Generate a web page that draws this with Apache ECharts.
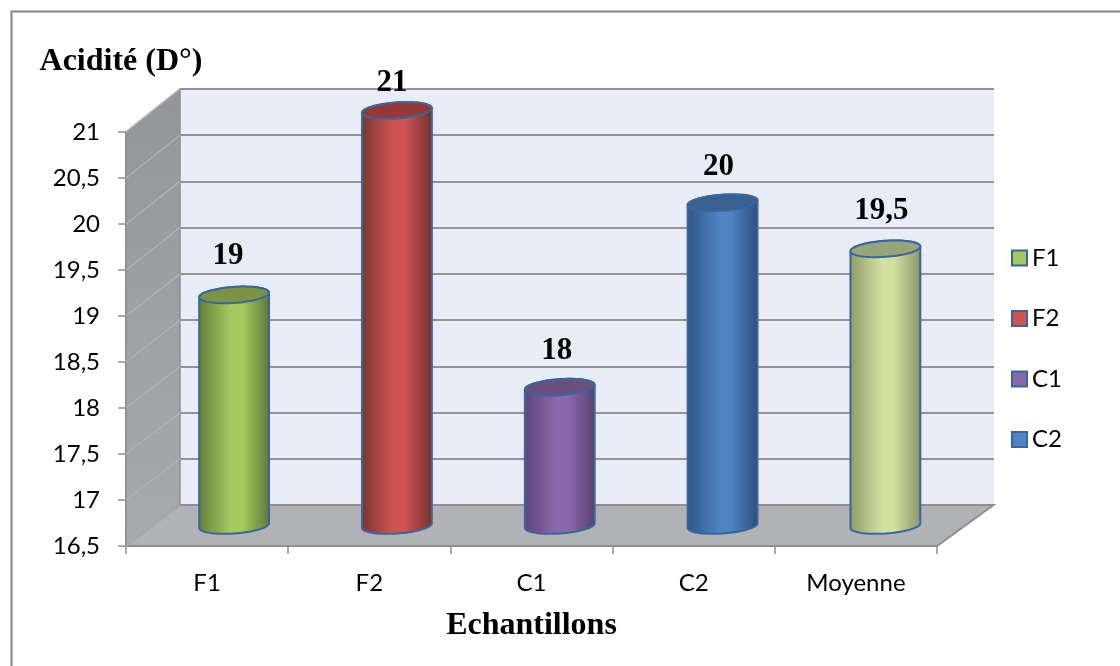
<!DOCTYPE html>
<html>
<head>
<meta charset="utf-8">
<style>html,body{margin:0;padding:0;background:#fff}#chart{width:1120px;height:666px}</style>
<script src="https://cdn.jsdelivr.net/npm/echarts@6/dist/echarts.min.js"></script>
</head>
<body>
<div id="chart"></div>
<script>
// Sample names and acidity readings (D°)
const categories = ['F1', 'F2', 'C1', 'C2', 'Moyenne'];
const acidity = [19, 21, 18, 20, 19.5];
const valueLabels = ['19', '21', '18', '20', '19,5'];
const legendNames = ['F1', 'F2', 'C1', 'C2'];
const yMin = 16.5, yMax = 21, yStep = 0.5;
const yTicks = [16.5, 17, 17.5, 18, 18.5, 19, 19.5, 20, 20.5, 21];

// Cylinder shading: edge, centre, far edge, cap
const shades = [
  ['#657d3a', '#a3c95f', '#5f7536', '#7c9245'],
  ['#7a3533', '#cd5452', '#73302e', '#933a39'],
  ['#5c4678', '#8b68ab', '#55406f', '#69507f'],
  ['#2f5583', '#4f83c4', '#2c4f7a', '#38618f'],
  ['#8c9a6c', '#cfe1a1', '#87956a', '#96a57a']
];
const outline = '#3c659a';
const lineGrey = '#8f8f8f';

// Hand placement of each value label relative to the top of its cylinder
const labelShift = [[-6, -39], [-5, -28], [-3, -36], [-4, -36], [-4, -38]];

// Oblique projection of the 3D box: the rear wall sits up and to the right of
// the front plane, with a touch of perspective toward the right and the bottom
const depthX = 54, depthY = -43, leanX = 2.5, leanY = 2;
const capA = 35, capB = 8, capTilt = -4 * Math.PI / 180;

function capPoint(c, t) {
  const x = capA * Math.cos(t), y = capB * Math.sin(t);
  return [
    c[0] + x * Math.cos(capTilt) - y * Math.sin(capTilt),
    c[1] + x * Math.sin(capTilt) + y * Math.cos(capTilt)
  ];
}

function toRear(p, r) {
  return [
    p[0] + depthX + leanX * (p[0] - r.x) / r.width,
    p[1] + depthY + leanY * (p[1] - r.y) / r.height
  ];
}

// Cylinders stand on the row halfway into the box
function toMidRow(p, r) {
  return [
    p[0] + 26.7 + 3.1 * (p[0] - r.x) / r.width,
    p[1] + (depthY + leanY * (p[1] - r.y) / r.height) / 2
  ];
}

function renderCylinder(params, api) {
  const i = api.value(0), v = api.value(1);
  const rect = params.coordSys;
  const top = toMidRow(api.coord([i, v]), rect);
  const base = toMidRow(api.coord([i, yMin]), rect);
  const s = shades[i];
  const steps = 40, body = [], cap = [];
  for (let k = 0; k <= steps; k++) body.push(capPoint(base, Math.PI - Math.PI * k / steps));
  for (let k = 0; k <= steps; k++) body.push(capPoint(top, -Math.PI * k / steps));
  for (let k = 0; k < steps * 2; k++) cap.push(capPoint(top, Math.PI * k / steps));
  return {
    type: 'group',
    children: [
      {
        type: 'polygon',
        shape: { points: body },
        style: {
          fill: new echarts.graphic.LinearGradient(0, 0, 1, 0, [
            { offset: 0, color: s[0] },
            { offset: 0.45, color: s[1] },
            { offset: 0.62, color: s[1] },
            { offset: 1, color: s[2] }
          ]),
          stroke: outline, lineWidth: 2
        }
      },
      {
        type: 'polygon',
        shape: { points: cap },
        style: { fill: s[3], stroke: outline, lineWidth: 2 }
      },
      {
        type: 'text',
        style: {
          text: valueLabels[i],
          x: top[0] + labelShift[i][0], y: top[1] + labelShift[i][1],
          align: 'center', verticalAlign: 'middle',
          font: 'bold 31px "Liberation Serif"', fill: '#000'
        }
      }
    ]
  };
}

// Side wall, floor and receding gridlines of the box
function renderRoom(params, api) {
  const r = params.coordSys;
  const back = p => toRear(p, r);
  const bl = [r.x, r.y + r.height], tl = [r.x, r.y], br = [r.x + r.width, r.y + r.height];
  const children = [
    {
      type: 'polygon',
      shape: { points: [tl, back(tl), back(bl), bl] },
      style: {
        fill: new echarts.graphic.LinearGradient(0, 0, 0, 1, [
          { offset: 0, color: '#949598' }, { offset: 1, color: '#a9aaad' }
        ]),
        stroke: lineGrey, lineWidth: 1.5
      }
    },
    {
      type: 'polygon',
      shape: { points: [bl, back(bl), back(br), br] },
      style: { fill: '#b0b2b6', stroke: lineGrey, lineWidth: 2 }
    }
  ];
  yTicks.forEach(t => {
    const p = [r.x, api.coord([0, t])[1]];
    const q = back(p);
    children.push({
      type: 'line',
      shape: { x1: p[0], y1: p[1], x2: q[0], y2: q[1] },
      style: { stroke: '#b0b1b3', lineWidth: 1.5 }
    });
  });
  return { type: 'group', children };
}

const chart = echarts.init(document.getElementById('chart'));
const cylinderSeries = categories.map((name, i) => ({
  name,
  type: 'custom',
  xAxisIndex: 0,
  yAxisIndex: 0,
  z: 5,
  clip: false,
  renderItem: renderCylinder,
  itemStyle: { color: shades[i][1], borderColor: outline, borderWidth: 2 },
  encode: { x: 0, y: 1 },
  data: [[i, acidity[i]]]
}));

chart.setOption({
  animation: false,
  backgroundColor: '#fff',
  grid: [
    { left: 126, right: 183, top: 132, bottom: 120 },
    { left: 180, right: 126, top: 89, bottom: 161, show: true, backgroundColor: '#e8ecf6', borderWidth: 0 }
  ],
  legend: {
    data: legendNames,
    orient: 'vertical',
    left: 1006,
    top: 241,
    itemWidth: 15,
    itemHeight: 15,
    itemGap: 36.5,
    icon: 'rect',
    textStyle: { fontFamily: 'Lato', fontSize: 24, color: '#000' }
  },
  xAxis: [
    {
      type: 'category',
      gridIndex: 0,
      data: categories,
      name: 'Echantillons',
      nameLocation: 'middle',
      nameGap: 64,
      nameTextStyle: { fontFamily: 'Liberation Serif', fontWeight: 'bold', fontSize: 32, color: '#000' },
      axisLine: { lineStyle: { color: lineGrey, width: 2 } },
      axisTick: { show: true, length: 8, lineStyle: { color: lineGrey, width: 1.5 } },
      axisLabel: { fontFamily: 'Lato', fontSize: 24, color: '#000', margin: 25 }
    },
    { type: 'category', gridIndex: 1, data: categories, show: false }
  ],
  yAxis: [
    {
      type: 'value',
      gridIndex: 0,
      min: yMin,
      max: yMax,
      interval: yStep,
      name: 'Acidité (D°)',
      nameLocation: 'end',
      nameGap: 54,
      nameTextStyle: { fontFamily: 'Liberation Serif', fontWeight: 'bold', fontSize: 32, color: '#000', padding: [0, 10, 0, 0], align: 'center' },
      splitLine: { show: false },
      axisLine: { show: true, lineStyle: { color: lineGrey, width: 2 } },
      axisTick: { show: true, length: 8, lineStyle: { color: lineGrey, width: 1.5 } },
      axisLabel: {
        fontFamily: 'Lato', fontSize: 24, color: '#000', margin: 26,
        formatter: v => String(v).replace('.', ',')
      }
    },
    {
      type: 'value',
      gridIndex: 1,
      min: yMin,
      max: yMax,
      interval: yStep,
      axisLine: { show: false },
      axisTick: { show: false },
      axisLabel: { show: false },
      splitLine: { show: true, lineStyle: { color: '#939393', width: 2 } }
    }
  ],
  graphic: [
    {
      // outer chart frame, open toward the page edges
      type: 'polyline',
      silent: true,
      shape: { points: [[11.5, 680], [11.5, 11.5], [1130, 11.5]] },
      style: { stroke: '#868686', lineWidth: 2, fill: 'none' }
    }
  ],
  series: [
    {
      name: 'box',
      type: 'custom',
      xAxisIndex: 0,
      yAxisIndex: 0,
      z: 1,
      clip: false,
      silent: true,
      renderItem: renderRoom,
      encode: { x: 0, y: 1 },
      data: [[0, yMin]]
    },
    ...cylinderSeries
  ]
});
</script>
</body>
</html>
